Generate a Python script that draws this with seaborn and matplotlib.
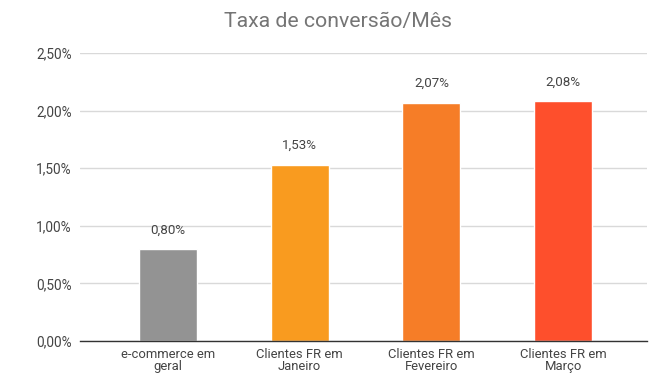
import matplotlib
matplotlib.use("Agg")
import matplotlib.pyplot as plt
import seaborn as sns
import pandas as pd

categories = ["e-commerce em\ngeral", "Clientes FR em\nJaneiro", "Clientes FR em\nFevereiro", "Clientes FR em\nMarço"]
values = [0.80, 1.53, 2.07, 2.08]
labels = ["0,80%", "1,53%", "2,07%", "2,08%"]
colors = ["#939393", "#F99B1F", "#F67D27", "#FE4F2C"]
yticks = [0.0, 0.5, 1.0, 1.5, 2.0, 2.5]
ytick_labels = ["0,00%", "0,50%", "1,00%", "1,50%", "2,00%", "2,50%"]

sns.set_theme(style="white")
plt.rcParams['font.family'] = ['Roboto', 'DejaVu Sans']

df = pd.DataFrame({"cat": categories, "val": values})

fig = plt.figure(figsize=(6.59, 3.89), dpi=100)
ax = fig.add_axes([80/659, 1 - 341/389, (647-80)/659, (341-53)/389])

sns.barplot(data=df, x="cat", y="val", hue="cat", palette=colors, legend=False,
            width=0.44, ax=ax, saturation=1)

ax.set_ylim(0, 2.5)
ax.set_xlim(-0.668, 3.637)
ax.set_yticks(yticks)
ax.set_yticklabels(ytick_labels, color="#444444", fontsize=9.8)
ax.tick_params(axis="x", labelsize=9.4, labelcolor="#444444", length=0, pad=5)
ax.tick_params(axis="y", length=0, pad=6)
for lab in ax.get_xticklabels():
    lab.set_linespacing(0.95)
ax.set_xlabel("")
ax.set_ylabel("")
ax.grid(axis="y", color="#d9d9d9", linewidth=1)
ax.set_axisbelow(True)
for s in ["top", "right", "left"]:
    ax.spines[s].set_visible(False)
ax.spines["bottom"].set_color("#333333")
ax.spines["bottom"].set_linewidth(1)

for i, (v, l) in enumerate(zip(values, labels)):
    ax.annotate(l, (i, v), xytext=(0, 9), textcoords="offset points",
                ha="center", va="bottom", fontsize=9.6, color="#444444")

fig.text(338/659, 1 - 22/389, "Taxa de conversão/Mês", ha="center", va="center",
         fontsize=15.3, color="#757575")

fig.savefig("out.png", dpi=100)
